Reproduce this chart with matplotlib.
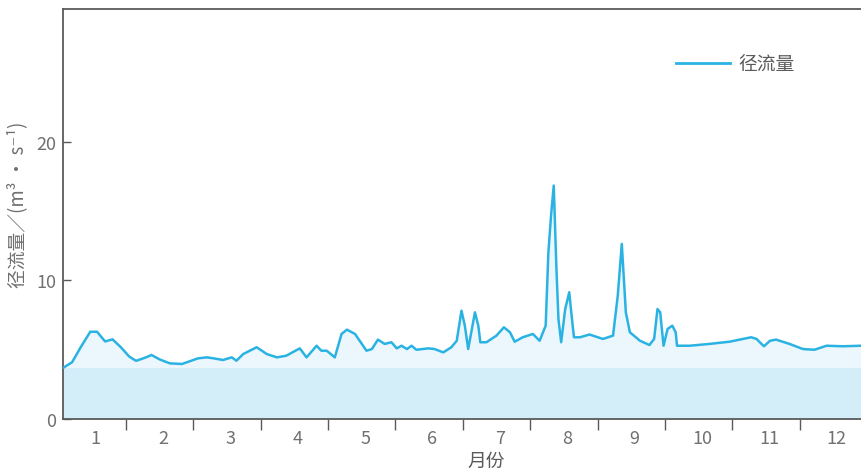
import matplotlib
matplotlib.use("Agg")
import matplotlib.pyplot as plt
from matplotlib.lines import Line2D

plt.rcParams['font.family'] = ['Noto Sans CJK SC', 'DejaVu Sans']

# Daily runoff trace, x in months since Jan 1
month_pos = [0.07, 0.20, 0.33, 0.47, 0.57, 0.69, 0.80, 0.92, 1.05, 1.15, 1.27, 1.38,
             1.50, 1.65, 1.83, 2.07, 2.20, 2.30, 2.44, 2.57, 2.64, 2.74, 2.94, 3.09,
             3.24, 3.38, 3.58, 3.68, 3.83, 3.90, 3.98, 4.10, 4.20, 4.28, 4.40, 4.57,
             4.65, 4.74, 4.84, 4.94, 5.02, 5.09, 5.17, 5.24, 5.31, 5.49, 5.58, 5.71,
             5.83, 5.91, 5.98, 6.03, 6.08, 6.18, 6.23, 6.26, 6.35, 6.50, 6.61, 6.70,
             6.77, 6.89, 7.04, 7.14, 7.23, 7.27, 7.31, 7.35, 7.39, 7.42, 7.46, 7.52,
             7.58, 7.61, 7.65, 7.74, 7.88, 8.08, 8.23, 8.30, 8.36, 8.42, 8.48, 8.63,
             8.77, 8.84, 8.89, 8.93, 8.98, 9.04, 9.11, 9.16, 9.18, 9.37, 9.66, 9.96,
             10.28, 10.36, 10.47, 10.56, 10.65, 10.85, 11.05, 11.22, 11.40, 11.64,
             11.91, 12.0]
flow = [3.70, 4.10, 5.20, 6.30, 6.30, 5.60, 5.75, 5.20, 4.50, 4.20, 4.40, 4.62,
        4.30, 4.02, 3.97, 4.38, 4.45, 4.38, 4.26, 4.45, 4.21, 4.69, 5.18, 4.69,
        4.45, 4.57, 5.10, 4.45, 5.29, 4.93, 4.93, 4.45, 6.14, 6.45, 6.14, 4.93,
        5.05, 5.73, 5.42, 5.54, 5.10, 5.29, 5.05, 5.29, 5.00, 5.10, 5.05, 4.81,
        5.18, 5.65, 7.82, 6.74, 5.05, 7.70, 6.74, 5.54, 5.54, 6.02, 6.62, 6.26,
        5.58, 5.90, 6.14, 5.65, 6.74, 12.0, 14.7, 16.85, 10.8, 7.20, 5.54, 7.94,
        9.15, 7.70, 5.90, 5.90, 6.10, 5.78, 6.02, 8.90, 12.64, 7.70, 6.26, 5.65,
        5.34, 5.78, 7.94, 7.70, 5.29, 6.50, 6.74, 6.26, 5.29, 5.29, 5.42, 5.58,
        5.90, 5.78, 5.25, 5.65, 5.73, 5.42, 5.05, 5.00, 5.29, 5.25,
        5.29, 5.29]

base_flow = 3.7
month_labels = ['1', '2', '3', '4', '5', '6', '7', '8', '9', '10', '11', '12']
y_ticks = [0, 10, 20]

line_color = '#2ab3e2'
axis_color = '#5a5a5a'
text_color = '#707070'

W, H = 861, 477
fig = plt.figure(figsize=(W / 100, H / 100), dpi=100)
left, right, top, bottom = 63, 867, 10, 420
ax = fig.add_axes([left / W, (H - bottom) / H, (right - left) / W, (bottom - top) / H])

ax.fill_between(month_pos, 0, flow, color='#ecf7fd', lw=0, zorder=1)
ax.axhspan(0, base_flow, color='#d3edf9', lw=0, zorder=2)
ax.plot(month_pos, flow, color=line_color, lw=1.8, solid_joinstyle='round',
        solid_capstyle='round', zorder=3)

ax.set_xlim(0.065, 12.0)
ax.set_ylim(0, 29.6)

for side in ['left', 'bottom', 'top']:
    ax.spines[side].set_color(axis_color)
    ax.spines[side].set_linewidth(1.3)
ax.spines['right'].set_visible(False)

# month labels sit between boundary ticks
ax.set_xticks([k - 0.45 for k in range(1, 13)])
ax.set_xticklabels(month_labels)
ax.tick_params(axis='x', which='major', length=0, pad=7, labelsize=13,
               labelcolor=text_color)
ax.set_xticks(list(range(1, 12)), minor=True)
ax.tick_params(axis='x', which='minor', length=8, width=1.0, color=axis_color,
               direction='out')

ax.set_yticks(y_ticks)
ax.set_yticklabels([str(v) for v in y_ticks])
ax.tick_params(axis='y', length=6, width=1.0, color=axis_color, direction='in',
               pad=5, labelsize=13, labelcolor=text_color)

fig.text(18 / W, 1 - 205 / H, '径流量／(m³ · s⁻¹)', rotation=90, ha='center',
         va='center', fontsize=13.5, color=text_color)
fig.text(486 / W, 1 - 461 / H, '月份', ha='center', va='center', fontsize=13.5,
         color='#5a5a5a')

handle = Line2D([], [], color=line_color, lw=2)
leg = ax.legend([handle], ['径流量'], loc='center left',
                bbox_to_anchor=(676 / W, 1 - 65 / H), bbox_transform=fig.transFigure,
                frameon=False, fontsize=13.5, handlelength=2.9, handletextpad=0.45,
                borderpad=0, borderaxespad=0)
for t in leg.get_texts():
    t.set_color('#5a5a5a')

fig.savefig('out.png', dpi=100)
